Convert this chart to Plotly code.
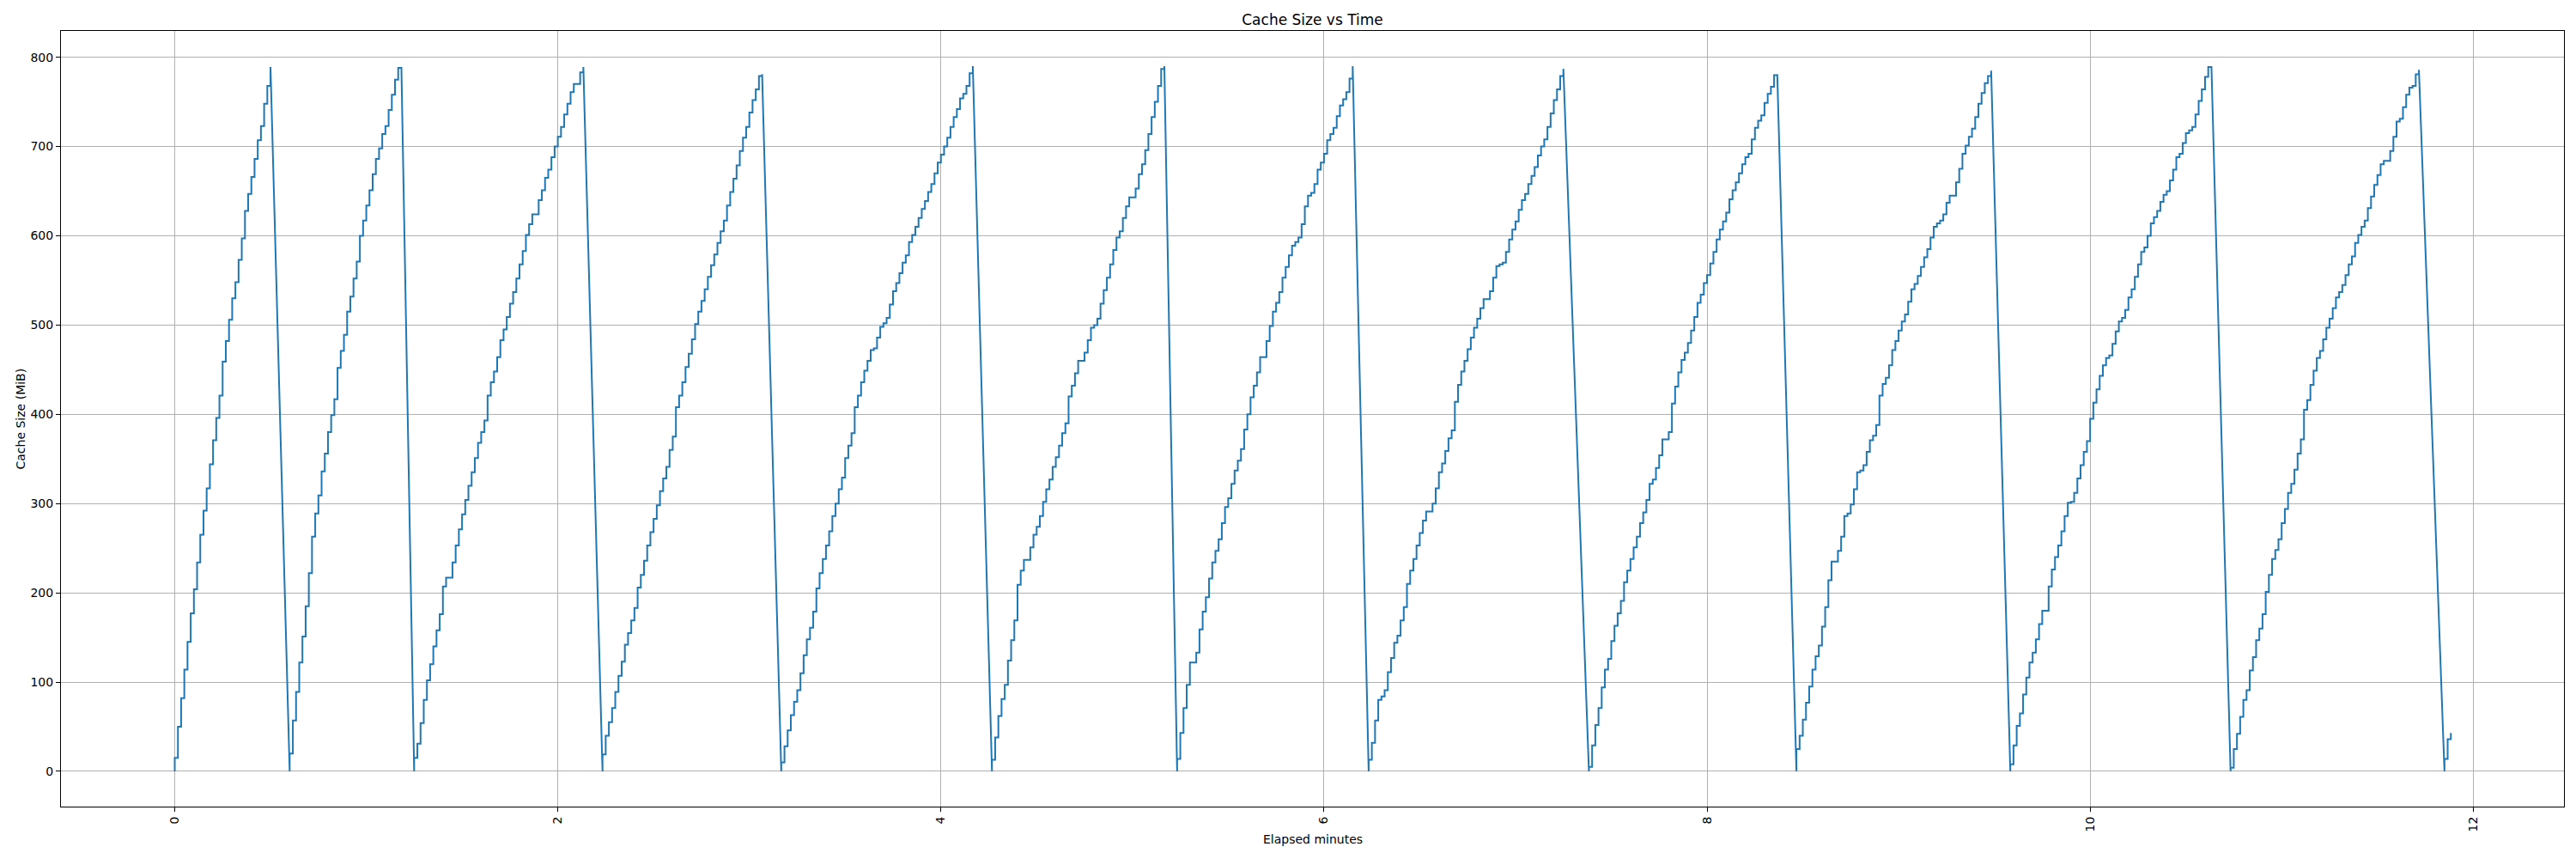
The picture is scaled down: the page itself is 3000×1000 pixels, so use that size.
import plotly.graph_objects as go

# ---- data ----
# each cycle: first-sample time in seconds, then one cache value (MiB) per second
cycle_start_seconds = [0, 36, 75, 134, 190, 256, 314, 374, 443, 508, 575, 644, 711]

cycle_01 = [15, 50, 82, 114, 145, 177, 204, 234, 265, 292, 317, 344, 371, 396, 421, 459,
            482, 506, 530, 548, 573, 597, 628, 647, 666, 686, 707, 723, 748, 768, 789]
cycle_02 = [20, 57, 89, 122, 151, 185, 222, 263, 289, 309, 336, 356, 380, 399, 417, 452,
            471, 489, 515, 532, 552, 571, 600, 617, 634, 651, 669, 686, 698, 714, 723, 741,
            758, 775, 788, 789]
cycle_03 = [15, 31, 54, 80, 102, 120, 140, 158, 176, 207, 217, 217, 234, 253, 271, 288,
            304, 320, 335, 351, 368, 380, 393, 421, 436, 448, 464, 483, 495, 509, 524, 537,
            552, 568, 583, 601, 613, 624, 624, 640, 651, 665, 674, 688, 700, 711, 722, 736,
            748, 761, 770, 770, 783, 789]
cycle_04 = [19, 40, 55, 71, 89, 107, 123, 142, 155, 169, 183, 206, 220, 236, 253, 268,
            283, 298, 314, 328, 341, 360, 375, 408, 421, 436, 453, 468, 484, 501, 515, 527,
            540, 554, 567, 579, 592, 605, 617, 634, 649, 664, 679, 695, 710, 722, 738, 752,
            764, 779, 781]
cycle_05 = [10, 28, 46, 63, 78, 91, 110, 130, 148, 161, 179, 205, 222, 238, 253, 269,
            286, 300, 316, 329, 351, 365, 379, 408, 421, 436, 449, 460, 472, 474, 486, 498,
            502, 508, 523, 538, 547, 558, 570, 578, 593, 601, 610, 620, 630, 639, 649, 658,
            670, 682, 691, 700, 710, 722, 733, 742, 754, 759, 768, 782, 790]
cycle_06 = [13, 38, 62, 81, 97, 124, 147, 169, 209, 225, 237, 237, 251, 265, 274, 286,
            302, 316, 327, 341, 352, 365, 379, 390, 420, 432, 446, 460, 460, 469, 483, 497,
            500, 507, 524, 539, 553, 568, 584, 598, 605, 620, 633, 643, 643, 653, 669, 680,
            696, 714, 733, 750, 768, 787, 790]
cycle_07 = [14, 43, 71, 97, 122, 122, 133, 159, 179, 195, 216, 234, 247, 260, 278, 296,
            306, 322, 337, 348, 361, 383, 400, 419, 432, 447, 464, 464, 482, 499, 515, 525,
            537, 553, 565, 578, 589, 593, 598, 613, 633, 645, 648, 658, 674, 682, 692, 707,
            714, 721, 734, 746, 753, 761, 776, 790]
cycle_08 = [13, 32, 57, 80, 84, 91, 111, 127, 144, 152, 169, 184, 210, 225, 238, 253,
            267, 281, 291, 291, 300, 317, 335, 345, 359, 373, 382, 414, 433, 448, 460, 473,
            486, 497, 507, 519, 529, 529, 538, 553, 566, 568, 570, 582, 596, 607, 616, 629,
            640, 647, 658, 667, 677, 690, 700, 708, 722, 737, 752, 764, 779, 787]
cycle_09 = [5, 29, 52, 71, 94, 114, 126, 146, 163, 177, 191, 212, 225, 238, 251, 263,
            278, 290, 304, 322, 327, 340, 354, 372, 372, 380, 412, 431, 447, 461, 469, 480,
            494, 509, 525, 534, 547, 556, 569, 582, 596, 607, 616, 626, 641, 651, 660, 670,
            680, 688, 692, 708, 721, 729, 735, 749, 759, 767, 780, 781]
cycle_10 = [25, 40, 58, 77, 95, 114, 129, 141, 162, 184, 214, 235, 235, 247, 263, 286,
            289, 299, 316, 335, 337, 343, 358, 371, 376, 388, 421, 434, 441, 455, 472, 482,
            494, 504, 512, 526, 540, 546, 555, 565, 576, 585, 598, 610, 614, 617, 624, 637,
            645, 645, 660, 675, 692, 701, 711, 720, 733, 748, 760, 771, 779, 785]
cycle_11 = [8, 29, 51, 65, 86, 105, 122, 133, 148, 165, 180, 180, 207, 226, 240, 253,
            269, 286, 301, 302, 312, 328, 343, 358, 370, 395, 413, 428, 443, 455, 463, 466,
            479, 493, 504, 508, 517, 531, 540, 554, 568, 582, 587, 600, 614, 621, 628, 638,
            646, 650, 662, 674, 688, 692, 704, 715, 718, 722, 736, 751, 764, 778, 789, 790]
cycle_12 = [4, 25, 42, 61, 80, 91, 113, 128, 147, 160, 176, 201, 220, 238, 248, 260,
            278, 294, 312, 322, 338, 356, 372, 405, 416, 433, 449, 463, 471, 484, 497, 507,
            519, 531, 537, 545, 556, 568, 577, 592, 601, 610, 617, 631, 644, 657, 668, 680,
            684, 684, 695, 711, 728, 731, 744, 758, 766, 768, 781, 786]
cycle_13 = [14, 36, 43]

cycles = [cycle_01, cycle_02, cycle_03, cycle_04, cycle_05, cycle_06, cycle_07,
          cycle_08, cycle_09, cycle_10, cycle_11, cycle_12, cycle_13]

x_tick_values = [0, 2, 4, 6, 8, 10, 12]
y_tick_values = [0, 100, 200, 300, 400, 500, 600, 700, 800]

title_text = "Cache Size vs Time"
x_label = "Elapsed minutes"
y_label = "Cache Size (MiB)"

# ---- build the stepped path: each sample rises vertically from the previous value ----
xs, ys = [], []
for start, vals in zip(cycle_start_seconds, cycles):
    prev = 0
    for k, v in enumerate(vals):
        t = (start + k) / 60.0
        xs += [t, t]
        ys += [prev, v]
        prev = v

FONT = "DejaVu Sans"
PAGE_OFFSET = 8  # default body margin of the html page

fig = go.Figure()
fig.add_trace(go.Scatter(x=xs, y=ys, mode="lines",
                         line=dict(color="#1f77b4", width=2),
                         hoverinfo="skip", showlegend=False))

axis_common = dict(
    showgrid=True, gridcolor="#b0b0b0", gridwidth=1,
    zeroline=False, showline=True, linecolor="black", linewidth=1, mirror=True,
    ticks="outside", ticklen=5, tickwidth=1, tickcolor="black",
    tickfont=dict(family=FONT, size=14, color="black"),
)

W, H = 3000 - PAGE_OFFSET, 1000 - PAGE_OFFSET

fig.update_layout(
    width=W, height=H,
    paper_bgcolor="white", plot_bgcolor="white",
    margin=dict(l=71 - PAGE_OFFSET, r=14, t=36 - PAGE_OFFSET, b=61),
    font=dict(family=FONT, color="black"),
    xaxis=dict(range=[-0.594, 12.474], tickvals=x_tick_values,
               ticktext=[str(v) for v in x_tick_values], tickangle=-90, **axis_common),
    yaxis=dict(range=[-39.5, 829.5], tickvals=y_tick_values,
               ticktext=[str(v) for v in y_tick_values], **axis_common),
    title=dict(text=title_text, x=0.5, xanchor="center", xref="paper",
               y=1 - (23 - PAGE_OFFSET) / H, yref="container", yanchor="middle",
               font=dict(family=FONT, size=17, color="black")),
    annotations=[
        dict(text=x_label, xref="paper", yref="paper", x=0.5, y=-38 / 903,
             xanchor="center", yanchor="middle", showarrow=False,
             font=dict(family=FONT, size=14, color="black")),
        dict(text=y_label, xref="paper", yref="paper", x=-48 / 2915, y=0.5,
             xanchor="center", yanchor="middle", textangle=-90, showarrow=False,
             font=dict(family=FONT, size=14, color="black")),
    ],
)

fig.write_html("out.html", config={"displayModeBar": False})
